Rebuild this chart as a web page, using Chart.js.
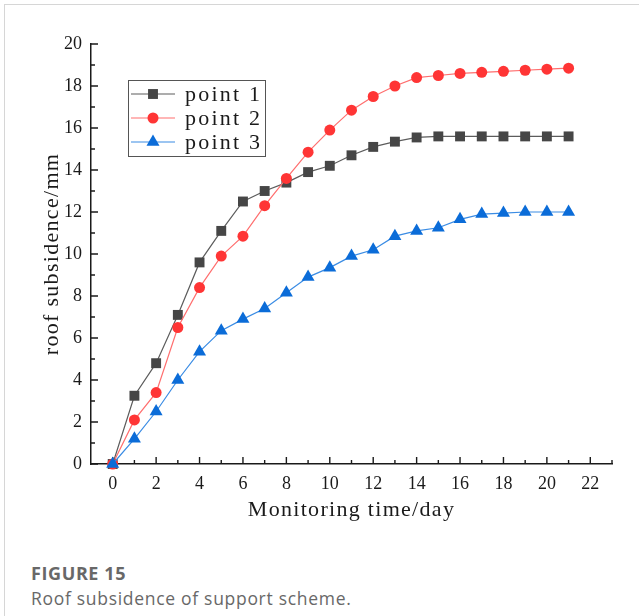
<!DOCTYPE html>
<html>
<head>
<meta charset="utf-8">
<script src="https://cdn.jsdelivr.net/npm/chart.js@4.4.1/dist/chart.umd.min.js"></script>
<style>
  body { margin: 0; background: #fff; width: 639px; height: 616px; overflow: hidden; position: relative; }
  #frame { position: absolute; left: 4px; top: 4px; width: 700px; height: 700px; border-left: 1px solid #d6d6d6; border-top: 1px solid #d6d6d6; }
  #c { position: absolute; left: 0; top: 0; }
  .cap { position: absolute; left: 31px; font-family: "Open Sans", sans-serif; color: #686868; white-space: nowrap; line-height: 20px; }
  #fig { top: 563px; font-size: 18px; font-weight: 700; letter-spacing: 0.6px; }
  #txt { top: 588px; font-size: 17.5px; letter-spacing: 0.7px; }
</style>
</head>
<body>
<div id="frame"></div>
<canvas id="c" width="639" height="540"></canvas>
<div class="cap" id="fig">FIGURE 15</div>
<div class="cap" id="txt">Roof subsidence of support scheme.</div>
<script>
// values
const days = [0, 1, 2, 3, 4, 5, 6, 7, 8, 9, 10, 11, 12, 13, 14, 15, 16, 17, 18, 19, 20, 21];
const point1 = [0, 3.25, 4.8, 7.1, 9.6, 11.1, 12.5, 13.0, 13.4, 13.9, 14.2, 14.7, 15.1, 15.35, 15.55, 15.6, 15.6, 15.6, 15.6, 15.6, 15.6, 15.6];
const point2 = [0, 2.1, 3.4, 6.5, 8.4, 9.9, 10.85, 12.3, 13.6, 14.85, 15.9, 16.85, 17.5, 18.0, 18.4, 18.5, 18.6, 18.65, 18.7, 18.75, 18.8, 18.85];
const point3 = [0, 1.2, 2.5, 4.0, 5.35, 6.35, 6.9, 7.4, 8.15, 8.9, 9.35, 9.9, 10.2, 10.85, 11.1, 11.25, 11.65, 11.9, 11.95, 12.0, 12.0, 12.0];
const seriesNames = ["point 1", "point 2", "point 3"];

const xTickLabels = [0, 2, 4, 6, 8, 10, 12, 14, 16, 18, 20, 22];
const xMinorTicks = [1, 3, 5, 7, 9, 11, 13, 15, 17, 19, 21, 23];
const yTickLabels = [0, 2, 4, 6, 8, 10, 12, 14, 16, 18, 20];
const yMinorTicks = [1, 3, 5, 7, 9, 11, 13, 15, 17, 19];
const xTitle = "Monitoring time/day";
const yTitle = "roof subsidence/mm";

const SERIF = '"Liberation Serif", "Times New Roman", serif';
const INK = "#1a1a1a";

function toXY(ys) {
    return days.map((d, i) => ({ x: d, y: ys[i] }));
}

/* inward tick marks */
const axisTicks = {
    id: "axisTicks",
    beforeDatasetsDraw(chart) {
        const { ctx, chartArea: a, scales: { x, y } } = chart;
        ctx.save();
        ctx.strokeStyle = INK;
        ctx.lineWidth = 1.4;
        ctx.beginPath();
        const mark = (px, py, dx, dy) => { ctx.moveTo(px, py); ctx.lineTo(px + dx, py + dy); };
        xTickLabels.forEach(v => mark(x.getPixelForValue(v), a.bottom, 0, -7));
        xMinorTicks.forEach(v => mark(x.getPixelForValue(v), a.bottom, 0, -4));
        yTickLabels.forEach(v => mark(a.left, y.getPixelForValue(v), 7, 0));
        yMinorTicks.forEach(v => mark(a.left, y.getPixelForValue(v), 4, 0));
        ctx.stroke();
        ctx.restore();
    }
};

function marker(ctx, style, x, y, r, color) {
    ctx.fillStyle = color;
    ctx.beginPath();
    if (style === "rect") {
        const s = r * Math.SQRT1_2;
        ctx.rect(x - s, y - s, 2 * s, 2 * s);
    } else if (style === "triangle") {
        ctx.moveTo(x, y - r);
        ctx.lineTo(x + r * Math.sin(2 * Math.PI / 3), y - r * Math.cos(2 * Math.PI / 3));
        ctx.lineTo(x + r * Math.sin(4 * Math.PI / 3), y - r * Math.cos(4 * Math.PI / 3));
        ctx.closePath();
    } else {
        ctx.arc(x, y, r, 0, Math.PI * 2);
    }
    ctx.fill();
}

/* axis titles + boxed legend */
const decorations = {
    id: "decorations",
    afterDraw(chart) {
        const { ctx, chartArea: a } = chart;
        ctx.save();
        ctx.fillStyle = INK;
        ctx.font = "22px " + SERIF;
        ctx.letterSpacing = "1.3px";
        ctx.textAlign = "center";
        ctx.textBaseline = "middle";
        ctx.fillText(xTitle, (a.left + a.right) / 2, 510);

        ctx.save();
        ctx.translate(52, (a.top + a.bottom) / 2);
        ctx.rotate(-Math.PI / 2);
        ctx.fillText(yTitle, 0, 0);
        ctx.restore();

        // legend
        ctx.strokeStyle = "#555";
        ctx.lineWidth = 1;
        ctx.strokeRect(128.5, 80.5, 137, 76);
        ctx.letterSpacing = "2.2px";
        ctx.textAlign = "left";
        chart.data.datasets.forEach((ds, i) => {
            const cy = 94 + i * 24;
            ctx.strokeStyle = ds.borderColor;
            ctx.lineWidth = ds.borderWidth;
            ctx.beginPath();
            ctx.moveTo(131, cy);
            ctx.lineTo(175, cy);
            ctx.stroke();
            marker(ctx, ds.pointStyle, 153, cy, ds.pointRadius, ds.pointBackgroundColor);
            ctx.fillStyle = INK;
            ctx.fillText(ds.label, 185, cy + 1);
        });
        ctx.restore();
    }
};

new Chart(document.getElementById("c"), {
    type: "line",
    data: {
        datasets: [
            {
                label: seriesNames[0], data: toXY(point1), order: 3,
                borderColor: "#5c5c5c", borderWidth: 1.2,
                pointStyle: "rect", pointRadius: 7,
                pointBackgroundColor: "#464646", pointBorderColor: "#464646", pointBorderWidth: 0
            },
            {
                label: seriesNames[1], data: toXY(point2), order: 2,
                borderColor: "#ff6e6e", borderWidth: 1.2,
                pointStyle: "circle", pointRadius: 5.5,
                pointBackgroundColor: "#ff3535", pointBorderColor: "#ff3535", pointBorderWidth: 0
            },
            {
                label: seriesNames[2], data: toXY(point3), order: 1,
                borderColor: "#3a8ce4", borderWidth: 1.2,
                pointStyle: "triangle", pointRadius: 7.5,
                pointBackgroundColor: "#0b6cd8", pointBorderColor: "#0b6cd8", pointBorderWidth: 0
            }
        ]
    },
    options: {
        responsive: false,
        animation: false,
        layout: { padding: { left: 0, top: 44, right: 27, bottom: 0 } },
        elements: { line: { tension: 0 } },
        datasets: { line: { clip: false } },
        plugins: { legend: { display: false }, tooltip: { enabled: false } },
        scales: {
            x: {
                type: "linear", min: -1, max: 23,
                afterBuildTicks: s => { s.ticks = xTickLabels.map(v => ({ value: v })); },
                afterFit: s => { s.height = 76; },
                grid: { display: false, drawTicks: false },
                border: { display: true, color: INK, width: 1.5 },
                ticks: { font: { family: SERIF, size: 18 }, color: INK, padding: 9, maxRotation: 0, autoSkip: false }
            },
            y: {
                type: "linear", min: 0, max: 20,
                afterBuildTicks: s => { s.ticks = yTickLabels.map(v => ({ value: v })); },
                afterFit: s => { s.width = 91; },
                grid: { display: false, drawTicks: false },
                border: { display: true, color: INK, width: 1.5 },
                ticks: { font: { family: SERIF, size: 18 }, color: INK, padding: 9, autoSkip: false }
            }
        }
    },
    plugins: [axisTicks, decorations]
});
</script>
</body>
</html>
